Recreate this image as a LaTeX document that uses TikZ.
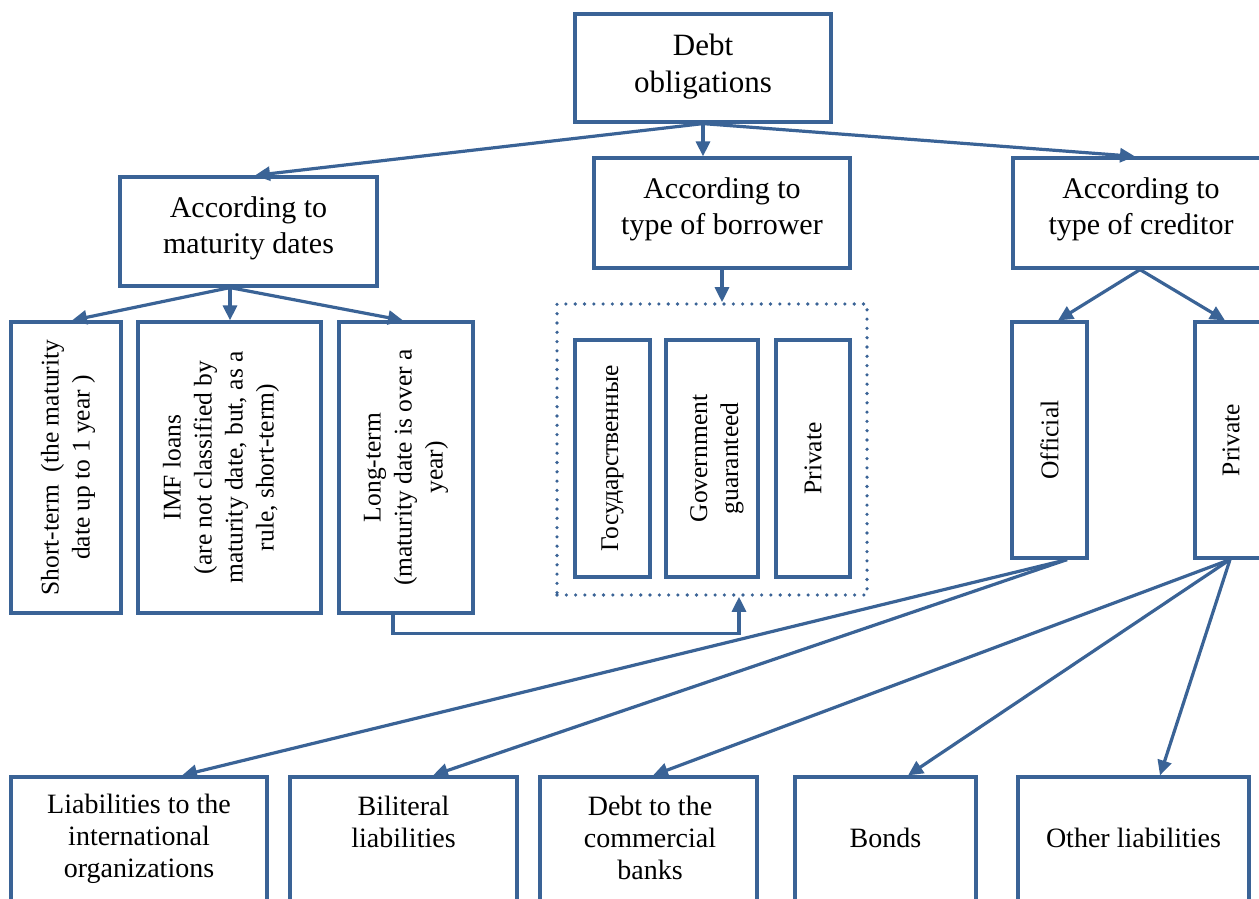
\documentclass[tikz,border=0pt]{standalone}
\usepackage{fontspec}
\setmainfont{Liberation Serif}
\usetikzlibrary{arrows.meta}
\definecolor{ln}{RGB}{58,99,150}
\begin{document}
\begin{tikzpicture}[x=1pt,y=-1pt,
  bx/.style={draw=ln,line width=3.2pt,inner sep=0pt,fill=white},
  dotbox/.style={draw=ln,line width=3.6pt,inner sep=0pt,dash pattern=on 0pt off 9.3pt,line cap=round},
  txt/.style={inner sep=0pt,align=center,font=\fontsize{30}{36}\selectfont},
  ttxt/.style={inner sep=0pt,align=center,font=\fontsize{31}{37}\selectfont},
  vtxt/.style={inner sep=0pt,align=center,rotate=90,font=\fontsize{25.5}{31}\selectfont},
  btxt/.style={inner sep=0pt,align=center,font=\fontsize{28}{32}\selectfont},
  arr/.style={draw=ln,line width=3.2pt,-{Triangle[length=15pt,width=14pt]}},
  con/.style={draw=ln,line width=3.2pt}]
\useasboundingbox (0,0) rectangle (1259,899);
% top level
\node[bx,minimum width=256,minimum height=108] (debt) at (703,68) {};
\node[ttxt] (debtT) at (703,66.5) {Debt\\obligations};
% second level
\node[bx,minimum width=257,minimum height=109] (mat) at (248.5,231.5) {};
\node[txt] (matT) at (248.5,228) {According to\\maturity dates};
\node[bx,minimum width=256,minimum height=110] (bor) at (722,213) {};
\node[txt] (borT) at (722,209) {According to\\type of borrower};
\node[bx,minimum width=256,minimum height=110] (cred) at (1141,213) {};
\node[txt] (credT) at (1141,209) {According to\\type of creditor};
% maturity children
\node[bx,minimum width=110,minimum height=291] (st) at (66,467.5) {};
\node[vtxt] (stT) at (68,467.5) {Short-term~ (the maturity\\date up to 1 year )};
\node[bx,minimum width=183,minimum height=291] (imf) at (229.5,467.5) {};
\node[vtxt] (imfT) at (221,467.5) {IMF loans\\(are not classified by\\maturity date, but, as a\\rule, short-term)};
\node[bx,minimum width=134,minimum height=291] (lt) at (406,467.5) {};
\node[vtxt] (ltT) at (406,467.5) {Long-term\\(maturity date is over a\\year)};
% borrower children
\node[dotbox,minimum width=310,minimum height=291] (dot) at (712,449.5) {};
\node[bx,minimum width=75,minimum height=237] (gos) at (612.5,458.5) {};
\node[vtxt] (gosT) at (612.5,458.5) {Государственные};
\node[bx,minimum width=92,minimum height=237] (gov) at (712,458.5) {};
\node[vtxt] (govT) at (717,458.5) {Government\\guaranteed};
\node[bx,minimum width=74,minimum height=237] (prv) at (813,458.5) {};
\node[vtxt] (prvT) at (813,458.5) {Private};
% creditor children
\node[bx,minimum width=75,minimum height=236] (off) at (1049.5,440) {};
\node[vtxt] (offT) at (1049.5,440) {Official};
\node[bx,minimum width=74,minimum height=236] (pri) at (1232,440) {};
\node[vtxt] (priT) at (1231,440) {Private};
% bottom row
\node[bx,minimum width=256,minimum height=153] (liab) at (139,853.5) {};
\node[btxt] (liabT) at (139,838.5) {Liabilities to the\\international\\organizations};
\node[bx,minimum width=227,minimum height=153] (bil) at (403.5,853.5) {};
\node[btxt] (bilT) at (403.5,821.5) {Biliteral\\liabilities};
\node[bx,minimum width=217,minimum height=153] (dtb) at (648.5,853.5) {};
\node[btxt] (dtbT) at (650,837.5) {Debt to the\\commercial\\banks};
\node[bx,minimum width=181,minimum height=153] (bonds) at (885.5,853.5) {};
\node[btxt] (bondsT) at (885.5,837.5) {Bonds};
\node[bx,minimum width=231,minimum height=153] (oth) at (1133.5,853.5) {};
\node[btxt] (othT) at (1133.5,837.5) {Other liabilities};
% connectors
\draw[arr] (debt.south) -- ([xshift=6.5pt]mat.north);
\draw[arr] (debt.south) -- (debt.south |- bor.north);
\draw[arr] (debt.south) -- ([xshift=-6pt]cred.north);
\draw[arr] ([xshift=-18.5pt]mat.south) -- ([xshift=6pt]st.north);
\draw[arr] ([xshift=-18.5pt]mat.south) -- ([xshift=0.5pt]imf.north);
\draw[arr] ([xshift=-18.5pt]mat.south) -- ([xshift=-3pt]lt.north);
\draw[arr] (bor.south) -- (bor.south |- dot.north);
\draw[arr] ([xshift=-13pt]lt.south) -- ++(0,19) -| ([xshift=27pt]dot.south);
\draw[arr] ([xshift=-1pt]cred.south) -- ([xshift=8.5pt]off.north);
\draw[arr] ([xshift=-1pt]cred.south) -- ([xshift=-7pt]pri.north);
\draw[arr] ([xshift=17.5pt]off.south) -- ([xshift=43pt]liab.north);
\draw[arr] ([xshift=17.5pt]off.south) -- ([xshift=29.5pt]bil.north);
\draw[arr] ([xshift=-2pt]pri.south) -- ([xshift=4.5pt]dtb.north);
\draw[arr] ([xshift=-2pt]pri.south) -- ([xshift=22.5pt]bonds.north);
\draw[arr] ([xshift=-2pt]pri.south) -- ([xshift=26.5pt]oth.north);
\end{tikzpicture}
\end{document}
